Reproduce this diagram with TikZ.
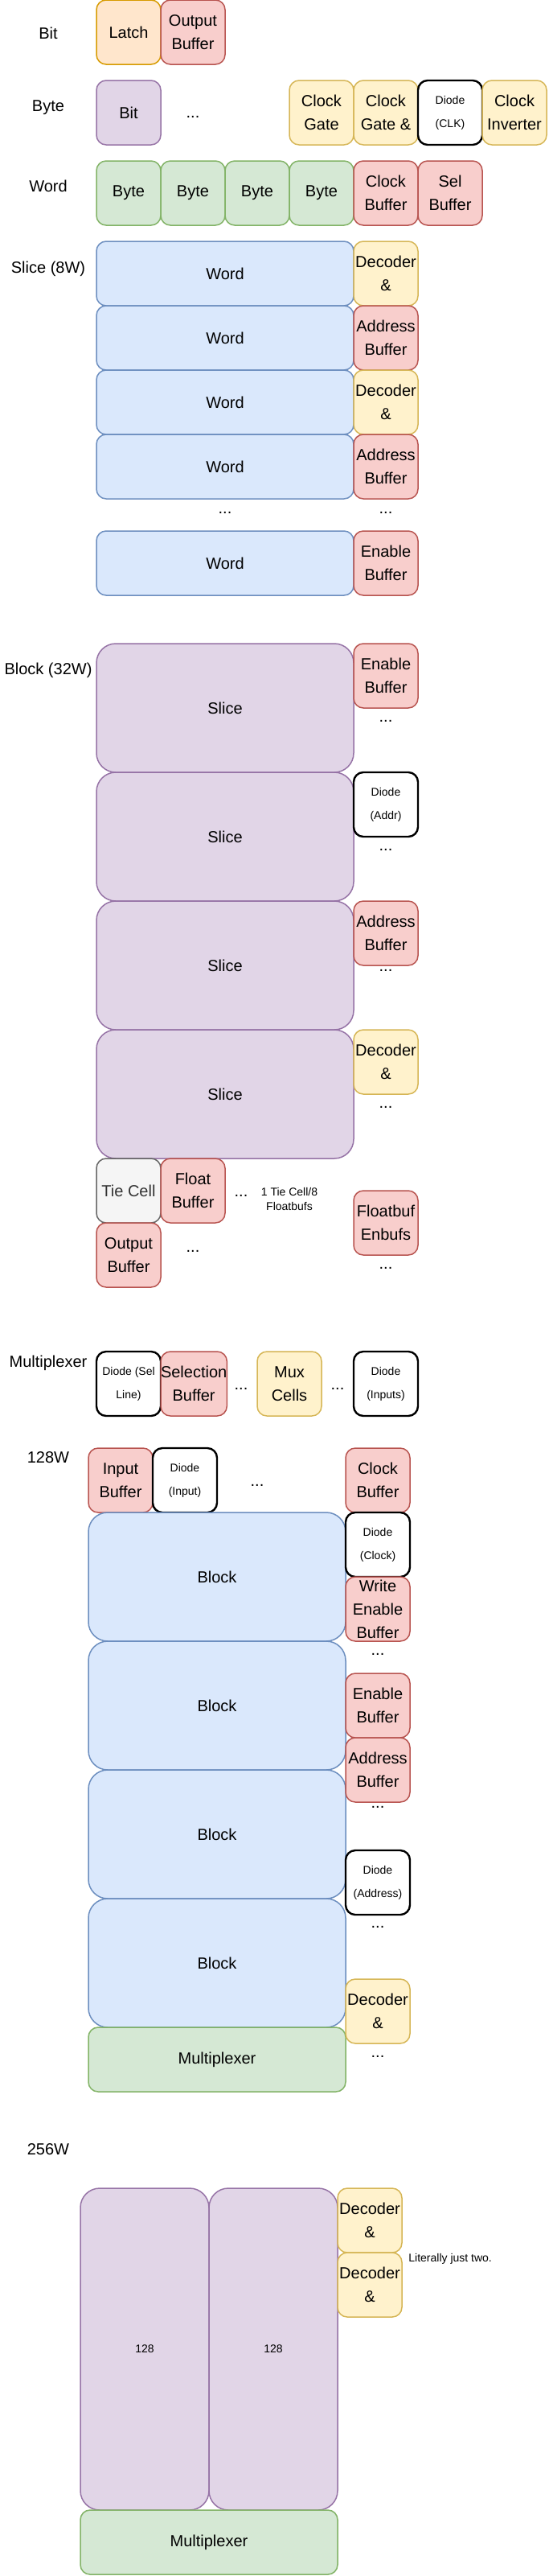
\documentclass[tikz,border=0pt]{standalone}
\usepackage{fontspec}
\setmainfont{Liberation Sans}
\usetikzlibrary{positioning}

\definecolor{orfill}{HTML}{FFE6CC}
\definecolor{orline}{HTML}{D79B00}
\definecolor{redfill}{HTML}{F8CECC}
\definecolor{redline}{HTML}{B85450}
\definecolor{purfill}{HTML}{E1D5E7}
\definecolor{purline}{HTML}{9673A6}
\definecolor{yelfill}{HTML}{FFF2CC}
\definecolor{yelline}{HTML}{D6B656}
\definecolor{grnfill}{HTML}{D5E8D4}
\definecolor{grnline}{HTML}{82B366}
\definecolor{blufill}{HTML}{DAE8FC}
\definecolor{bluline}{HTML}{6C8EBF}
\definecolor{gryfill}{HTML}{F5F5F5}
\definecolor{gryline}{HTML}{666666}
\definecolor{grytext}{HTML}{333333}

\begin{document}
\begin{tikzpicture}[
    x=1pt, y=-1pt,
    node distance=0pt,
    cellbox/.style = {rectangle, draw, rounded corners=6pt, minimum width=40pt, minimum height=40pt, inner sep=0pt, outer sep=0pt, align=center, line width=0.75pt, font=\fontsize{10}{14.5}\selectfont},
    latchcell/.style = {cellbox, fill=orfill, draw=orline},
    bufcell/.style = {cellbox, fill=redfill, draw=redline},
    bitcell/.style = {cellbox, fill=purfill, draw=purline},
    logiccell/.style = {cellbox, fill=yelfill, draw=yelline},
    bytecell/.style = {cellbox, fill=grnfill, draw=grnline},
    wordcell/.style = {cellbox, fill=blufill, draw=bluline, minimum width=160pt},
    tiecell/.style = {cellbox, fill=gryfill, draw=gryline, text=grytext},
    diodecell/.style = {cellbox, fill=white, draw=black, line width=1.2pt, font=\fontsize{7}{14.5}\selectfont},
    slicecell/.style = {bitcell, minimum width=160pt, minimum height=80pt, rounded corners=12pt},
    blockcell/.style = {wordcell, minimum height=80pt, rounded corners=12pt},
    muxcell/.style = {bytecell, minimum width=160pt},
    halfcell/.style = {bitcell, minimum width=80pt, minimum height=200pt, rounded corners=12pt, font=\fontsize{7}{9}\selectfont},
    tier/.style = {inner sep=0pt, text height=7pt, text depth=0pt, font=\fontsize{10}{12}\selectfont},
    dots/.style = {inner sep=0pt, anchor=base, font=\fontsize{10}{12}\selectfont},
    note/.style = {inner sep=0pt, align=center, font=\fontsize{7}{9}\selectfont}]

\useasboundingbox (0,0) rectangle (341,1601);

% Bit
\node[tier] (lbit) at (30,20.5) {Bit};
\node[latchcell, anchor=north west] (latch) at (60,0) {Latch};
\node[bufcell, right=of latch] (bitout) {Output\\Buffer};

% Byte
\node[tier] (lbyte) at (30,65.5) {Byte};
\node[bitcell, anchor=north west] (bytebit) at (60,50) {Bit};
\node[dots] (bytedots) at (120,73.2) {...};
\node[logiccell, anchor=north west] (clkgate) at (180,50) {Clock\\Gate};
\node[logiccell, right=of clkgate] (clkgateb) {Clock\\Gate \&};
\node[diodecell, right=of clkgateb] (clkdiode) {Diode\\(CLK)};
\node[logiccell, right=of clkdiode] (clkinv) {Clock\\Inverter};

% Word
\node[tier] (lword) at (30,115.5) {Word};
\node[bytecell, anchor=north west] (wbytea) at (60,100) {Byte};
\node[bytecell, right=of wbytea] (wbyteb) {Byte};
\node[bytecell, right=of wbyteb] (wbytec) {Byte};
\node[bytecell, right=of wbytec] (wbyted) {Byte};
\node[bufcell, right=of wbyted] (wclkbuf) {Clock\\Buffer};
\node[bufcell, right=of wclkbuf] (wselbuf) {Sel\\Buffer};

% Slice (8W)
\node[tier] (lslice) at (30,166) {Slice (8W)};
\node[wordcell, anchor=north west] (sworda) at (60,150) {Word};
\node[wordcell, below=of sworda] (swordb) {Word};
\node[wordcell, below=of swordb] (swordc) {Word};
\node[wordcell, below=of swordc] (swordd) {Word};
\node[logiccell, right=of sworda] (sdeca) {Decoder\\\&};
\node[bufcell, right=of swordb] (saddra) {Address\\Buffer};
\node[logiccell, right=of swordc] (sdecb) {Decoder\\\&};
\node[bufcell, right=of swordd] (saddrb) {Address\\Buffer};
\node[dots] (sworddots) at (140,319.2) {...};
\node[dots] (sbufdots) at (240,319.2) {...};
\node[wordcell, anchor=north west] (sworde) at (60,330) {Word};
\node[bufcell, right=of sworde] (senable) {Enable\\Buffer};

% Block (32W)
\node[tier] (lblock) at (30,415.5) {Block (32W)};
\node[slicecell, anchor=north west] (bslicea) at (60,400) {Slice};
\node[slicecell, below=of bslicea] (bsliceb) {Slice};
\node[slicecell, below=of bsliceb] (bslicec) {Slice};
\node[slicecell, below=of bslicec] (bsliced) {Slice};
\node[bufcell, right=of bslicea.north east, anchor=north west] (benable) {Enable\\Buffer};
\node[dots] (benabledots) at (240,448.7) {...};
\node[diodecell, right=of bsliceb.north east, anchor=north west] (bdiode) {Diode\\(Addr)};
\node[dots] (bdiodedots) at (240,528.7) {...};
\node[bufcell, right=of bslicec.north east, anchor=north west] (baddr) {Address\\Buffer};
\node[dots] (baddrdots) at (240,603.7) {...};
\node[logiccell, right=of bsliced.north east, anchor=north west] (bdec) {Decoder\\\&};
\node[dots] (bdecdots) at (240,688.7) {...};
\node[tiecell, below=of bsliced.south west, anchor=north west] (btie) {Tie Cell};
\node[bufcell, right=of btie] (bfloat) {Float\\Buffer};
\node[dots] (bfloatdots) at (150,743.7) {...};
\node[note] (bratio) at (180,745) {1 Tie Cell/8\\Floatbufs};
\node[bufcell, below=of btie] (bout) {Output\\Buffer};
\node[dots] (boutdots) at (120,778.2) {...};
\node[bufcell, anchor=north west] (bfloaten) at (220,740) {Floatbuf\\Enbufs};
\node[dots] (bfloatendots) at (240,788.7) {...};

% Multiplexer
\node[tier] (lmux) at (30,846) {Multiplexer};
\node[diodecell, anchor=north west] (msel) at (60,840) {Diode (Sel\\Line)};
\node[bufcell, right=of msel] (mselbuf) {Selection\\Buffer};
\node[dots] (mseldots) at (150,863.7) {...};
\node[logiccell, anchor=north west] (mcells) at (160,840) {Mux\\Cells};
\node[dots] (mcelldots) at (210,863.7) {...};
\node[diodecell, anchor=north west] (minputs) at (220,840) {Diode\\(Inputs)};

% 128W
\node[tier] (lquad) at (30,905.5) {128W};
\node[bufcell, anchor=north west] (qinbuf) at (55,900) {Input\\Buffer};
\node[diodecell, right=of qinbuf] (qindiode) {Diode\\(Input)};
\node[dots] (qindots) at (160,923.7) {...};
\node[bufcell, anchor=north west] (qclkbuf) at (215,900) {Clock\\Buffer};
\node[blockcell, anchor=north west] (qblocka) at (55,940) {Block};
\node[blockcell, below=of qblocka] (qblockb) {Block};
\node[blockcell, below=of qblockb] (qblockc) {Block};
\node[blockcell, below=of qblockc] (qblockd) {Block};
\node[muxcell, below=of qblockd] (qmux) {Multiplexer};
\node[diodecell, below=of qclkbuf] (qclkdiode) {Diode\\(Clock)};
\node[bufcell, below=of qclkdiode] (qwrite) {Write\\Enable\\Buffer};
\node[dots] (qwritedots) at (235,1028.7) {...};
\node[bufcell, anchor=north west] (qenable) at (215,1040) {Enable\\Buffer};
\node[bufcell, below=of qenable] (qaddr) {Address\\Buffer};
\node[dots] (qaddrdots) at (235,1123.7) {...};
\node[diodecell, anchor=north west] (qaddrdiode) at (215,1150) {Diode\\(Address)};
\node[dots] (qdiodedots) at (235,1198.4) {...};
\node[logiccell, anchor=north west] (qdec) at (215,1230) {Decoder\\\&};
\node[dots] (qdecdots) at (235,1278.7) {...};

% 256W
\node[tier] (lhalf) at (30,1335.6) {256W};
\node[halfcell, anchor=north west] (hquada) at (50,1360) {128};
\node[halfcell, right=of hquada] (hquadb) {128};
\node[logiccell, right=of hquadb.north east, anchor=north west] (hdeca) {Decoder\\\&};
\node[logiccell, below=of hdeca] (hdecb) {Decoder\\\&};
\node[note, anchor=west] (htwo) at (254,1404) {Literally just two.};
\node[muxcell, below=of hquada.south west, anchor=north west] (hmux) {Multiplexer};
\end{tikzpicture}
\end{document}
